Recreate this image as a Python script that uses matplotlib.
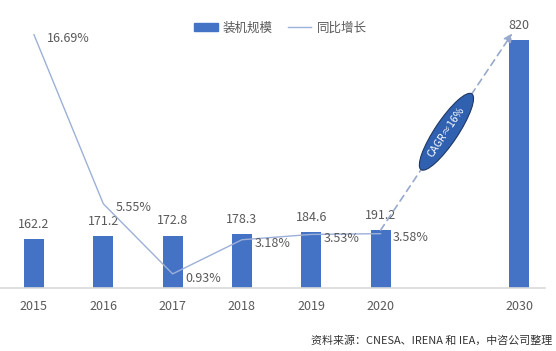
import math
import matplotlib.pyplot as plt
from matplotlib.patches import Patch
from matplotlib.lines import Line2D

plt.rcParams['font.family'] = ['Noto Sans CJK SC', 'DejaVu Sans']

# data
years = ['2015', '2016', '2017', '2018', '2019', '2020', '2030']
positions = [0, 1, 2, 3, 4, 5, 7]
capacity = [162.2, 171.2, 172.8, 178.3, 184.6, 191.2, 820]
growth = [16.69, 5.55, 0.93, 3.18, 3.53, 3.58]   # %, 2015-2020
cagr_text = 'CAGR≈16%'

bar_color = '#4472C4'
line_color = '#9DB0D8'
text_color = '#595959'

fig = plt.figure(figsize=(5.56, 3.51), dpi=100)
ax = fig.add_axes([0.0, 0.1795, 0.98, 0.735])

ax.bar(positions, capacity, width=0.29, color=bar_color, zorder=2)
for x, v in zip(positions, capacity):
    ax.annotate(f'{v:g}', (x, v), xytext=(0, 6), textcoords='offset points',
                ha='center', va='bottom', fontsize=9, color=text_color)

ax.set_xlim(-0.49, 7.37)
ax.set_ylim(0, 853)
ax.set_xticks(positions)
ax.set_xticklabels(years, fontsize=9, color=text_color)
ax.tick_params(axis='x', length=0, pad=9)
ax.set_yticks([])
for s in ['top', 'left', 'right']:
    ax.spines[s].set_visible(False)
ax.spines['bottom'].set_color('#D9D9D9')
ax.spines['bottom'].set_linewidth(1.2)

# growth line on second axis
ax2 = ax.twinx()
ax2.plot(positions[:6], growth, color=line_color, lw=1.0, zorder=3)
ax2.set_ylim(0, 17.0)
ax2.set_yticks([])
for s in ax2.spines.values():
    s.set_visible(False)
for x, g in zip(positions[:6], growth):
    ax2.annotate(f'{g:.2f}%', (x, g), xytext=(9, -3), textcoords='offset points',
                 ha='left', va='center', fontsize=9, color=text_color)

# dashed arrow 2020 -> 2030
start = (positions[5], capacity[5])
end = (positions[6] - 0.1, capacity[6] + 22)
ax.annotate('', xy=end, xytext=start,
            arrowprops=dict(arrowstyle='-|>,head_length=0.5,head_width=0.25',
                            linestyle=(0, (4, 3)), color='#97A9CC', lw=1.2,
                            shrinkA=0, shrinkB=0))

# CAGR ellipse along the arrow
fig.canvas.draw()
p0 = ax.transData.transform(start)
p1 = ax.transData.transform(end)
angle = math.degrees(math.atan2(p1[1] - p0[1], p1[0] - p0[0]))
mid = ((start[0] + end[0]) / 2, (start[1] + end[1]) / 2)
ax.text(mid[0], mid[1], cagr_text, rotation=angle, rotation_mode='anchor',
        ha='center', va='center', fontsize=7.5, color='white', zorder=5,
        bbox=dict(boxstyle='ellipse,pad=0.3', fc='#3060B0', ec='#1F3864', lw=0.8))

# legend
handles = [Patch(facecolor=bar_color, edgecolor=bar_color),
           Line2D([], [], color=line_color, lw=1.0)]
fig.legend(handles, ['装机规模', '同比增长'], loc='center', bbox_to_anchor=(0.504, 0.92),
           ncol=2, frameon=False, fontsize=9, handlelength=1.9, handleheight=0.6,
           columnspacing=1.2, handletextpad=0.4, labelcolor=text_color)

fig.text(0.993, 0.03, '资料来源：CNESA、IRENA 和 IEA，中咨公司整理', ha='right', va='center',
         fontsize=7.9, color='#333333')

fig.savefig('out.png', dpi=100)
